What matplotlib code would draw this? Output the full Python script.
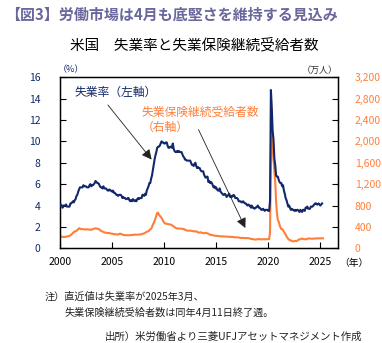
import numpy as np
import matplotlib
matplotlib.use('Agg')
import matplotlib.pyplot as plt

plt.rcParams['font.family'] = ['Noto Sans CJK JP', 'DejaVu Sans']

# US unemployment rate (%), monthly, Jan 2000 - Mar 2025
unemp_by_year = {
    2000: [4.0, 4.1, 4.0, 3.8, 4.0, 4.0, 4.0, 4.1, 3.9, 3.9, 3.9, 3.9],
    2001: [4.2, 4.2, 4.3, 4.4, 4.3, 4.5, 4.6, 4.9, 5.0, 5.3, 5.5, 5.7],
    2002: [5.7, 5.7, 5.7, 5.9, 5.8, 5.8, 5.8, 5.7, 5.7, 5.7, 5.9, 6.0],
    2003: [5.8, 5.9, 5.9, 6.0, 6.1, 6.3, 6.2, 6.1, 6.1, 6.0, 5.8, 5.7],
    2004: [5.7, 5.6, 5.8, 5.6, 5.6, 5.6, 5.5, 5.4, 5.4, 5.5, 5.4, 5.4],
    2005: [5.3, 5.4, 5.2, 5.2, 5.1, 5.0, 5.0, 4.9, 5.0, 5.0, 5.0, 4.9],
    2006: [4.7, 4.8, 4.7, 4.7, 4.6, 4.6, 4.7, 4.7, 4.5, 4.4, 4.5, 4.4],
    2007: [4.6, 4.5, 4.4, 4.5, 4.4, 4.6, 4.7, 4.6, 4.7, 4.7, 4.7, 5.0],
    2008: [5.0, 4.9, 5.1, 5.0, 5.4, 5.6, 5.8, 6.1, 6.1, 6.5, 6.8, 7.3],
    2009: [7.8, 8.3, 8.7, 9.0, 9.4, 9.5, 9.5, 9.6, 9.8, 10.0, 9.9, 9.9],
    2010: [9.8, 9.8, 9.9, 9.9, 9.6, 9.4, 9.4, 9.5, 9.5, 9.4, 9.8, 9.3],
    2011: [9.1, 9.0, 9.0, 9.1, 9.0, 9.1, 9.0, 9.0, 9.0, 8.8, 8.6, 8.5],
    2012: [8.3, 8.3, 8.2, 8.2, 8.2, 8.2, 8.2, 8.0, 7.8, 7.8, 7.7, 7.9],
    2013: [8.0, 7.7, 7.5, 7.6, 7.5, 7.5, 7.3, 7.2, 7.2, 7.2, 6.9, 6.7],
    2014: [6.6, 6.7, 6.7, 6.2, 6.3, 6.1, 6.2, 6.1, 5.9, 5.7, 5.8, 5.6],
    2015: [5.7, 5.5, 5.4, 5.4, 5.6, 5.3, 5.2, 5.1, 5.0, 5.0, 5.1, 5.0],
    2016: [4.8, 4.9, 5.0, 5.1, 4.8, 4.9, 4.8, 4.9, 5.0, 4.9, 4.7, 4.7],
    2017: [4.7, 4.6, 4.4, 4.4, 4.4, 4.3, 4.3, 4.4, 4.3, 4.2, 4.2, 4.1],
    2018: [4.0, 4.1, 4.0, 4.0, 3.8, 4.0, 3.8, 3.8, 3.7, 3.8, 3.8, 3.9],
    2019: [4.0, 3.8, 3.8, 3.7, 3.6, 3.6, 3.7, 3.6, 3.5, 3.6, 3.6, 3.6],
    2020: [3.5, 3.5, 4.4, 14.8, 13.2, 11.0, 10.2, 8.4, 7.8, 6.8, 6.7, 6.7],
    2021: [6.4, 6.2, 6.1, 6.1, 5.8, 5.9, 5.4, 5.1, 4.7, 4.5, 4.2, 3.9],
    2022: [4.0, 3.8, 3.6, 3.7, 3.6, 3.6, 3.5, 3.6, 3.5, 3.6, 3.6, 3.5],
    2023: [3.4, 3.6, 3.5, 3.4, 3.6, 3.6, 3.5, 3.8, 3.8, 3.9, 3.7, 3.7],
    2024: [3.7, 3.9, 3.9, 3.9, 4.0, 4.1, 4.2, 4.2, 4.1, 4.1, 4.2, 4.1],
    2025: [4.0, 4.1, 4.2],
}

# continuing claims (10k persons), monthly, Jan 2000 - Apr 2025
claims_by_year = {
    2000: [220, 220, 218, 215, 213, 212, 215, 218, 220, 223, 228, 235],
    2001: [245, 255, 270, 290, 305, 315, 320, 330, 340, 360, 375, 370],
    2002: [360, 355, 360, 360, 355, 350, 355, 355, 355, 350, 350, 355],
    2003: [345, 350, 360, 365, 370, 375, 370, 365, 365, 360, 340, 330],
    2004: [320, 315, 305, 300, 295, 290, 290, 285, 285, 285, 280, 275],
    2005: [275, 270, 265, 265, 262, 262, 260, 258, 265, 275, 270, 265],
    2006: [255, 250, 248, 245, 245, 245, 243, 245, 245, 245, 250, 250],
    2007: [250, 255, 255, 255, 255, 255, 255, 258, 260, 260, 265, 268],
    2008: [275, 280, 290, 300, 310, 315, 320, 340, 355, 365, 395, 440],
    2009: [475, 510, 560, 610, 660, 665, 630, 610, 590, 570, 540, 510],
    2010: [480, 465, 460, 460, 455, 450, 450, 445, 440, 430, 420, 410],
    2011: [395, 385, 375, 372, 370, 370, 370, 370, 365, 365, 360, 360],
    2012: [345, 340, 335, 330, 330, 330, 330, 330, 325, 320, 320, 315],
    2013: [320, 315, 310, 300, 295, 295, 300, 295, 290, 285, 280, 285],
    2014: [290, 285, 280, 270, 262, 255, 250, 250, 245, 240, 237, 235],
    2015: [235, 232, 228, 225, 225, 225, 225, 225, 223, 220, 220, 222],
    2016: [220, 220, 218, 215, 215, 213, 213, 213, 210, 205, 205, 205],
    2017: [205, 205, 202, 198, 193, 195, 195, 195, 192, 190, 192, 192],
    2018: [190, 190, 188, 185, 175, 173, 172, 172, 166, 163, 166, 170],
    2019: [172, 172, 172, 168, 168, 170, 170, 168, 168, 170, 170, 172],
    2020: [174, 172, 300, 1700, 2340, 1900, 1650, 1450, 1250, 880, 650, 530],
    2021: [500, 440, 390, 360, 360, 340, 310, 280, 260, 220, 200, 175],
    2022: [160, 155, 145, 140, 132, 131, 135, 138, 136, 140, 148, 165],
    2023: [168, 170, 180, 180, 175, 172, 170, 168, 168, 180, 185, 185],
    2024: [182, 180, 180, 178, 180, 183, 185, 184, 184, 188, 187, 185],
    2025: [185, 188, 187, 187],
}

year_ticks = [2000, 2005, 2010, 2015, 2020, 2025]
left_ticks = [0, 2, 4, 6, 8, 10, 12, 14, 16]
right_ticks = [0, 400, 800, 1200, 1600, 2000, 2400, 2800, 3200]


def to_series(by_year):
    t, v = [], []
    for yr, vals in by_year.items():
        for m, val in enumerate(vals):
            t.append(yr + m / 12.0)
            v.append(val)
    return np.array(t), np.array(v)


navy = '#13286a'
orange = '#ff7f3a'

t_u, unemp = to_series(unemp_by_year)
t_c, claims = to_series(claims_by_year)

fig = plt.figure(figsize=(3.82, 3.43), dpi=100)
ax = fig.add_axes([0.157, 0.276, 0.728, 0.499])
ax2 = ax.twinx()

ax2.plot(t_c, claims, color=orange, lw=1.5, zorder=2)
ax.plot(t_u, unemp, color=navy, lw=1.5, zorder=3)
ax.set_zorder(ax2.get_zorder() + 1)
ax.patch.set_visible(False)

ax.set_xlim(2000, 2026.7)
ax.set_ylim(0, 16)
ax2.set_ylim(0, 3200)
ax.set_xticks(year_ticks)
ax.set_yticks(left_ticks)
ax2.set_yticks(right_ticks)
ax2.set_yticklabels(['{:,}'.format(v) for v in right_ticks])

ax.tick_params(axis='x', direction='in', length=4, pad=6, labelsize=7.5,
               colors='black')
ax.tick_params(axis='y', direction='in', length=4, pad=14, labelsize=7.5,
               labelcolor=navy)
ax2.tick_params(axis='y', direction='in', length=4, pad=12, labelsize=7.5,
                labelcolor=orange)
for lab in ax.get_yticklabels():
    lab.set_horizontalalignment('right')
for lab in ax2.get_yticklabels():
    lab.set_horizontalalignment('left')
for sp in ax.spines.values():
    sp.set_linewidth(1.0)

# axis unit labels
ax.text(0.04, 1.015, '（%）', transform=ax.transAxes, fontsize=6.5,
        color=navy, ha='center', va='bottom')
ax.text(0.935, 1.015, '（万人）', transform=ax.transAxes, fontsize=6.5,
        color='#333333', ha='center', va='bottom')
ax.text(1.005, -0.085, '（年）', transform=ax.transAxes, fontsize=7,
        color='black', ha='left', va='center')

# series labels with arrows
arrow_style = dict(arrowstyle='-|>,head_length=0.6,head_width=0.3',
                   color='#222222', lw=0.6, mutation_scale=10,
                   shrinkA=0, shrinkB=0)
ax.text(2001.4, 14.6, '失業率（左軸）', fontsize=8.5, color=navy,
        ha='left', va='center')
ax.annotate('', xy=(2008.8, 8.3), xytext=(2004.6, 13.4),
            arrowprops=arrow_style)
ax.text(2007.85, 12.75, '失業保険継続受給者数', fontsize=8.5, color=orange,
        ha='left', va='center')
ax.text(2007.85, 11.3, '（右軸）', fontsize=8.5, color=orange,
        ha='left', va='center')
ax.annotate('', xy=(2017.8, 1.9), xytext=(2013.3, 11.1),
            arrowprops=arrow_style)

# headings
fig.text(0.012, 0.956, '【図3】労働市場は4月も底堅さを維持する見込み',
         fontsize=10.8, color='#6a679c', fontweight='bold',
         ha='left', va='center')
fig.text(0.508, 0.869, '米国　失業率と失業保険継続受給者数',
         fontsize=10.5, color='black', ha='center', va='center')

# notes
fig.text(45 / 382, 1 - 297 / 343, '注）直近値は失業率が2025年3月、',
         fontsize=7.3, color='#222222', ha='left', va='center')
fig.text(65 / 382, 1 - 313 / 343, '失業保険継続受給者数は同年4月11日終了週。',
         fontsize=7.3, color='#222222', ha='left', va='center')
fig.text(362 / 382, 1 - 337 / 343, '出所）米労働省より三菱UFJアセットマネジメント作成',
         fontsize=7.5, color='#222222', ha='right', va='center')

fig.savefig('out.png', dpi=100)
